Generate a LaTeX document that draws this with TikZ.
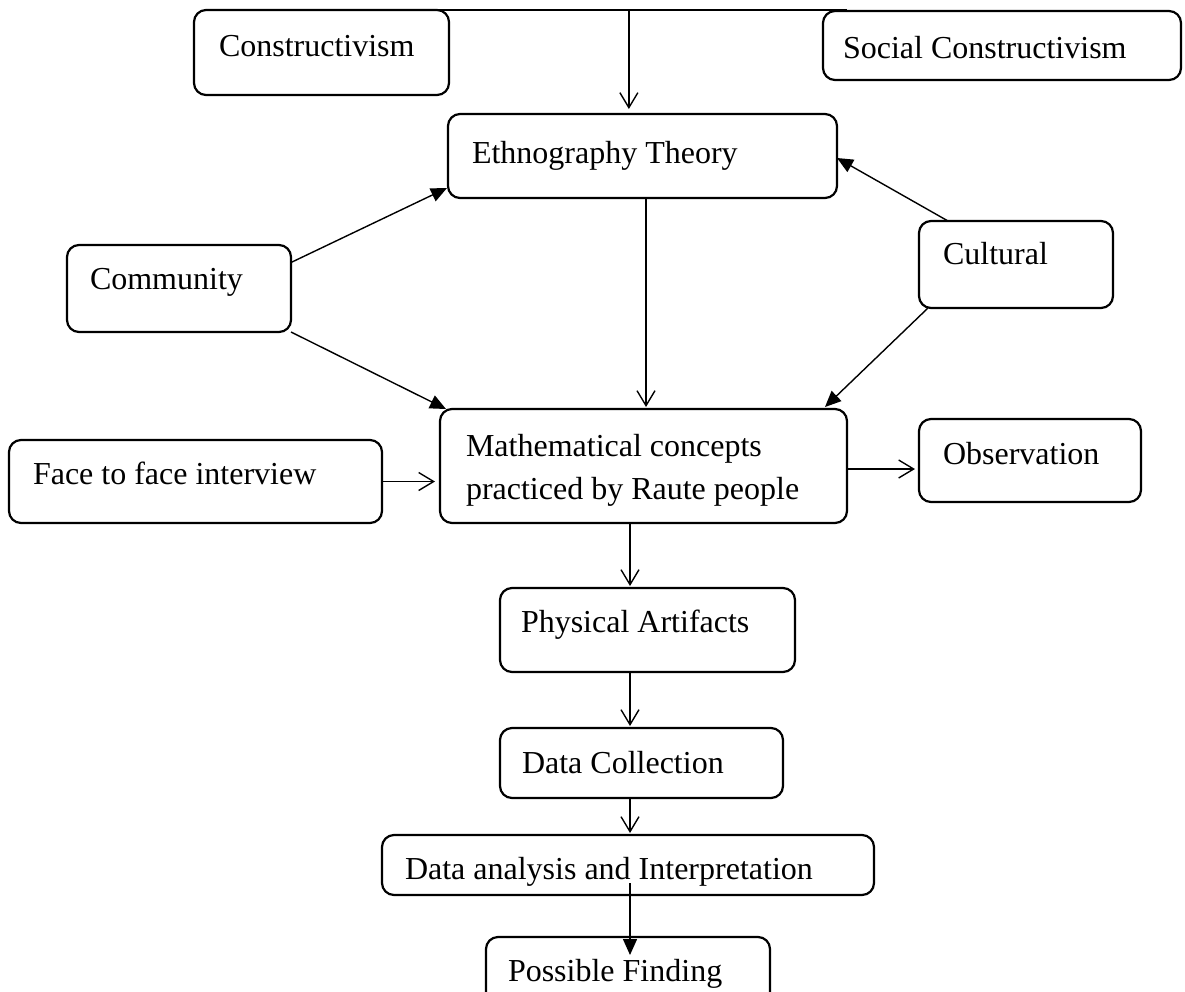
\documentclass[tikz,border=0pt]{standalone}
\usepackage{fontspec}
\setmainfont{Liberation Serif}
\usetikzlibrary{arrows.meta,fit,calc}
\tikzset{
  box/.style={draw, rounded corners=12pt, line width=2.2pt, inner sep=0pt, outer sep=0pt},
  txt/.style={inner sep=0pt, outer sep=0pt, font=\fontsize{32}{43}\selectfont, anchor=base west},
  conn/.style={line width=1.4pt},
  openarr/.style={conn, -{Straight Barb[length=15pt,width=18pt,line width=1.4pt]}},
  fillarr/.style={conn, -{Triangle[length=16pt,width=14pt]}}
}
\begin{document}
\begin{tikzpicture}[x=1pt,y=-1pt]
\useasboundingbox (0,0) rectangle (1185,991);
\clip (0,0) rectangle (1185,991);
% boxes
\node[box, fit={(194,10) (449,95)}] (cons) {};
\node[box, fit={(823,11) (1181,80)}] (soc) {};
\node[box, fit={(448,114) (837,198)}] (eth) {};
\node[box, fit={(67,245) (291,332)}] (comm) {};
\node[box, fit={(919,221) (1113,308)}] (cult) {};
\node[box, fit={(440,409) (847,523)}] (math) {};
\node[box, fit={(9,440) (382,523)}] (face) {};
\node[box, fit={(919,419) (1141,502)}] (obs) {};
\node[box, fit={(500,588) (795,672)}] (phys) {};
\node[box, fit={(500,728) (783,798)}] (dc) {};
\node[box, fit={(382,835) (874,895)}] (da) {};
\node[box, fit={(486,937) (770,1010)}] (pf) {};
% texts
\node[txt] (tcons) at (219,56) {Constructivism};
\node[txt] (tsoc) at (843,58) {Social Constructivism};
\node[txt] (teth) at (472,163) {Ethnography Theory};
\node[txt] (tcomm) at (90,289) {Community};
\node[txt] (tcult) at (943,264) {Cultural};
\node[txt, anchor=west, align=left] (tmath) at (466,470) {Mathematical concepts\\practiced by Raute people};
\node[txt] (tface) at (33,484) {Face to face interview};
\node[txt] (tobs) at (943,464) {Observation};
\node[txt] (tphys) at (521,632) {Physical Artifacts};
\node[txt] (tdc) at (522,773) {Data Collection};
\node[txt] (tda) at (405,879) {Data analysis and Interpretation};
\node[txt] (tpf) at (508,981) {Possible Finding};
% connectors
\coordinate (tl) at ([xshift=-12pt]cons.north east);
\coordinate (tr) at ([xshift=24pt]soc.north west |- tl);
\draw[conn] (tl) -- (tr);
\coordinate (tm) at ($(tl)!0.468!(tr)$);
\draw[openarr, shorten >=5pt] (tm) -- (tm |- eth.north);
\draw[openarr, shorten >=2pt] ([xshift=3.5pt]eth.south) -- ([xshift=3.5pt]eth.south |- math.north);
\draw[fillarr] ([yshift=26pt]comm.east) -- ([xshift=-1pt,yshift=10pt]eth.south west);
\draw[fillarr] (comm.south east) -- ([xshift=6pt]math.north west);
\draw[fillarr] ([xshift=29pt]cult.north west) -- ([yshift=-2pt]eth.east);
\draw[fillarr] ([xshift=9pt]cult.south west) -- ([xshift=-22pt,yshift=2pt]math.north east);
\draw[openarr, shorten >=5pt] (face.east) -- (face.east -| math.west);
\draw[openarr, shorten >=4pt] ([yshift=-3pt]math.east) -- ([yshift=-3pt]math.east -| obs.west);
\draw[openarr, shorten >=2pt] ([xshift=-13.5pt]math.south) -- ([xshift=-13.5pt]math.south |- phys.north);
\draw[openarr, shorten >=2pt] ([xshift=-17.5pt]phys.south) -- ([xshift=-17.5pt]phys.south |- dc.north);
\draw[openarr, shorten >=2pt] ([xshift=-11.5pt]dc.south) -- ([xshift=-11.5pt]dc.south |- da.north);
\draw[fillarr] ([xshift=2pt,yshift=-18pt]da.center) -- ([xshift=2pt,yshift=-18pt]da.center |- pf.north);
\end{tikzpicture}
\end{document}
